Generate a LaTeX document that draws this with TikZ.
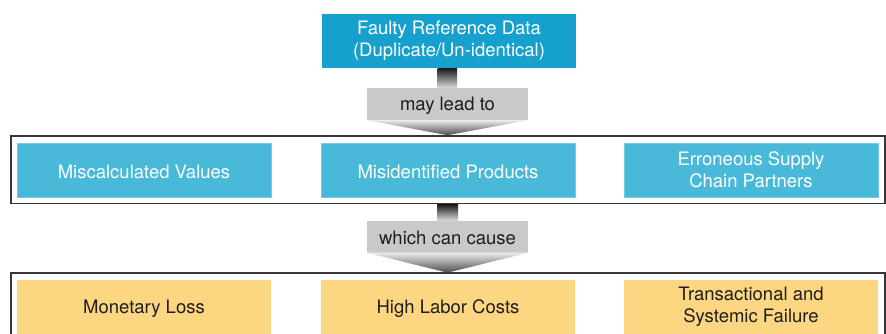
\documentclass[tikz,border=0pt]{standalone}
\usepackage{fontspec}
\setmainfont{TeX Gyre Heros}
\usetikzlibrary{calc}
\definecolor{topblue}{RGB}{22,160,206}
\definecolor{effblue}{RGB}{72,185,217}
\definecolor{effedge}{RGB}{120,205,230}
\definecolor{costyellow}{RGB}{253,214,130}
\definecolor{tagfill}{RGB}{201,201,201}
\definecolor{framegray}{RGB}{55,55,55}
\definecolor{inktext}{RGB}{30,30,30}
\tikzset{
  % a tall strut on the first line drops the text a little inside its box
  txt/.style={font=\fontsize{18.5}{22}\selectfont, align=center, inner sep=0pt,
              execute at begin node={\rule{0pt}{17pt}}},
  box/.style={txt, minimum width=254pt, minimum height=54pt},
  source/.style={box, fill=topblue, text=white},
  effect/.style={box, fill=effblue, draw=effedge, line width=0.6pt, text=white},
  cost/.style={box, fill=costyellow, text=inktext},
  tag/.style={txt, fill=tagfill, text=inktext, minimum width=161pt, minimum height=32pt},
  frame/.style={draw=framegray, line width=1.3pt},
  stem/.style={top color=black!90, bottom color=black!15},
  tip/.style={top color=black!8, bottom color=black!70},
}
\begin{document}
\begin{tikzpicture}[x=1pt, y=-1pt]
\useasboundingbox (0,0) rectangle (886,334);

% source of the problem
\node[source] (src) at (449,41) {Faulty Reference Data\\(Duplicate/Un-identical)};

% first link
\node[tag] (lead) at (447.5,104) {may lead to};
\shade[stem] ($(src.south)+(-11.5,0)$) rectangle ($(lead.north)+(9.5,0)$);
\shade[tip] (lead.south west) -- (lead.south east) -- ($(lead.south)+(0,15)$) -- cycle;

% consequences
\draw[frame] (11,136) rectangle (885,203.5);
\node[effect] (calc) at (144,170) {Miscalculated Values};
\node[effect] (prod) at (448,170) {Misidentified Products};
\node[effect] (part) at (751,170) {Erroneous Supply\\Chain Partners};

% second link
\node[tag] (cause) at (447.5,236.5) {which can cause};
\shade[stem] ($(cause.north)+(-10.5,-16)$) rectangle ($(cause.north)+(10.5,0)$);
\shade[tip] (cause.south west) -- (cause.south east) -- ($(cause.south)+(0,20)$) -- cycle;

% resulting costs
\draw[frame] (11,345) -- (11,273) -- (885,273) -- (885,345);
\node[cost] (loss) at (144,307) {Monetary Loss};
\node[cost] (labor) at (448,307) {High Labor Costs};
\node[cost] (fail) at (751,307) {Transactional and\\Systemic Failure};
\end{tikzpicture}
\end{document}
